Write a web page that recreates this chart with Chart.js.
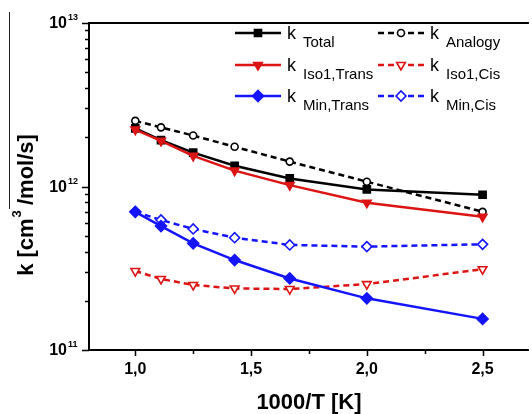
<!DOCTYPE html>
<html>
<head>
<meta charset="utf-8">
<script src="https://cdn.jsdelivr.net/npm/chart.js@4.4.1/dist/chart.umd.min.js"></script>
<style>
  html, body { margin: 0; padding: 0; background: #fff; overflow: hidden; }
  #wrap { position: relative; width: 536px; height: 414px; }
  #rule { position: absolute; left: 9px; top: 12px; width: 1px; height: 197px; background: #222; }
</style>
</head>
<body>
<div id="wrap"><canvas id="chartRate" width="536" height="414"></canvas></div>
<div id="rule"></div>
<script>
// 1000/T for T = 1000 ... 400 K
const invT = [1.0, 1.111, 1.25, 1.429, 1.667, 2.0, 2.5];

// rate constants, cm3/mol/s
const kTotal     = [2.27e12, 1.92e12, 1.61e12, 1.34e12, 1.12e12, 9.6e11, 8.9e11];
const kAnalogy   = [2.52e12, 2.30e12, 2.05e12, 1.75e12, 1.42e12, 1.07e12, 7.0e11];
const kIso1Trans = [2.23e12, 1.90e12, 1.54e12, 1.25e12, 1.02e12, 7.96e11, 6.53e11];
const kIso1Cis   = [3.04e11, 2.72e11, 2.50e11, 2.38e11, 2.36e11, 2.53e11, 3.12e11];
const kMinTrans  = [7.0e11, 5.73e11, 4.49e11, 3.55e11, 2.74e11, 2.07e11, 1.55e11];
const kMinCis    = [7.0e11, 6.24e11, 5.50e11, 4.86e11, 4.39e11, 4.29e11, 4.43e11];

const seriesSubs = ["Total", "Analogy", "Iso1,Trans", "Iso1,Cis", "Min,Trans", "Min,Cis"];

const xTickVals = [1.0, 1.5, 2.0, 2.5];
const xMinorVals = [1.25, 1.75, 2.25];
const yTickVals = [1e11, 1e12, 1e13];
const yTickExps = ["11", "12", "13"];

const RED = "#dc1414";
const BLUE = "#1414ff";
const FONT = "'Liberation Sans', Arial, sans-serif";

const pts = (arr) => invT.map((x, i) => ({ x: x, y: arr[i] }));

function series(label, arr, color, style, filled, dashed, radius, rot, order) {
  return {
    label: label,
    data: pts(arr),
    borderColor: color,
    borderWidth: 2.5,
    borderDash: dashed ? [6, 4] : [],
    pointStyle: style,
    pointRotation: rot,
    pointRadius: radius,
    pointBorderWidth: 1.6,
    pointBorderColor: color,
    pointBackgroundColor: filled ? color : "#fff",
    tension: 0,
    order: order
  };
}

const datasets = [
  series(seriesSubs[0], kTotal, "#000", "rect", true, false, 5, 0, 3),
  series(seriesSubs[1], kAnalogy, "#000", "circle", false, true, 3.5, 0, 4),
  series(seriesSubs[2], kIso1Trans, RED, "triangle", true, false, 5, 180, 1),
  series(seriesSubs[3], kIso1Cis, RED, "triangle", false, true, 5, 180, 6),
  series(seriesSubs[4], kMinTrans, BLUE, "rectRot", true, false, 5.5, 0, 2),
  series(seriesSubs[5], kMinCis, BLUE, "rectRot", false, true, 5, 0, 5)
];

// axes, ticks, titles and the two-column legend with subscripts
const decor = {
  id: "decor",
  afterDraw(chart) {
    const { ctx, chartArea: a, scales: { x, y } } = chart;
    const H = Chart.helpers;
    ctx.save();
    ctx.strokeStyle = "#000";
    ctx.fillStyle = "#000";

    ctx.lineWidth = 2;
    ctx.beginPath();
    ctx.moveTo(a.left, a.top); ctx.lineTo(a.right, a.top);
    ctx.moveTo(a.left, a.top - 1); ctx.lineTo(a.left, a.bottom + 1);
    ctx.moveTo(a.left - 1, a.bottom); ctx.lineTo(a.right, a.bottom);
    ctx.stroke();

    // y ticks: decades long, 2..9 short
    ctx.lineWidth = 1.5;
    ctx.beginPath();
    for (let e = 11; e <= 12; e++) {
      for (let m = 2; m <= 9; m++) {
        const py = Math.round(y.getPixelForValue(m * Math.pow(10, e))) + 0.5;
        ctx.moveTo(a.left - 4, py); ctx.lineTo(a.left, py);
      }
    }
    yTickVals.forEach(v => {
      const py = Math.round(y.getPixelForValue(v)) + 0.5;
      ctx.moveTo(a.left - 7, py); ctx.lineTo(a.left, py);
    });
    xTickVals.forEach(v => {
      const px = Math.round(x.getPixelForValue(v)) + 0.5;
      ctx.moveTo(px, a.bottom); ctx.lineTo(px, a.bottom + 6);
    });
    xMinorVals.forEach(v => {
      const px = Math.round(x.getPixelForValue(v)) + 0.5;
      ctx.moveTo(px, a.bottom); ctx.lineTo(px, a.bottom + 4);
    });
    ctx.stroke();

    // y tick labels 10^n
    yTickVals.forEach((v, i) => {
      const py = y.getPixelForValue(v);
      ctx.font = "bold 16px " + FONT;
      ctx.textAlign = "right";
      ctx.textBaseline = "middle";
      ctx.fillText("10", 67, py + 1);
      ctx.font = "bold 9px " + FONT;
      ctx.textAlign = "left";
      ctx.textBaseline = "alphabetic";
      ctx.fillText(yTickExps[i], 68, py - 3);
    });

    // x title
    ctx.font = "bold 22px " + FONT;
    ctx.textAlign = "center";
    ctx.textBaseline = "alphabetic";
    ctx.fillText("1000/T [K]", (a.left + a.right) / 2, 409);

    // y title, rotated
    ctx.save();
    ctx.translate(33, 205);
    ctx.rotate(-Math.PI / 2);
    const big = "bold 22px " + FONT, small = "bold 13px " + FONT;
    ctx.font = big;
    const w1 = ctx.measureText("k [cm").width;
    const w3 = ctx.measureText(" /mol/s]").width;
    ctx.font = small;
    const w2 = ctx.measureText("3").width;
    let tx = -(w1 + w2 + w3) / 2;
    ctx.textAlign = "left";
    ctx.font = big;
    ctx.fillText("k [cm", tx, 0);
    ctx.font = small;
    ctx.fillText("3", tx + w1 + 1, -12);
    ctx.font = big;
    ctx.fillText(" /mol/s]", tx + w1 + w2, 0);
    ctx.restore();

    // legend
    const colX = [235, 378];
    const rowY = [33, 65, 96];
    chart.data.datasets.forEach((ds, i) => {
      const cx = colX[i % 2], cy = rowY[Math.floor(i / 2)];
      const len = 46;
      ctx.save();
      ctx.strokeStyle = ds.borderColor;
      ctx.lineWidth = ds.borderWidth;
      ctx.setLineDash(ds.borderDash);
      ctx.beginPath();
      ctx.moveTo(cx, cy); ctx.lineTo(cx + len, cy);
      ctx.stroke();
      ctx.setLineDash([]);
      ctx.fillStyle = ds.pointBackgroundColor;
      ctx.strokeStyle = ds.pointBorderColor;
      ctx.lineWidth = ds.pointBorderWidth;
      H.drawPoint(ctx, { pointStyle: ds.pointStyle, rotation: ds.pointRotation, radius: ds.pointRadius, borderWidth: ds.pointBorderWidth }, cx + len / 2, cy);
      ctx.restore();
      const kx = cx + len + 6;
      ctx.fillStyle = "#000";
      ctx.textAlign = "left";
      ctx.font = "18px " + FONT;
      ctx.fillText("k", kx, cy + 6);
      ctx.font = "15px " + FONT;
      ctx.fillText(ds.label, kx + 16, cy + 13.5);
    });
    ctx.restore();
  }
};

new Chart(document.getElementById("chartRate"), {
  type: "line",
  data: { datasets: datasets },
  options: {
    responsive: false,
    animation: false,
    layout: { padding: { left: 0, top: 23, right: 0, bottom: 0 } },
    plugins: { legend: { display: false }, tooltip: { enabled: false } },
    scales: {
      x: {
        type: "linear",
        min: 0.8,
        max: 2.7,
        grid: { display: false, drawTicks: false },
        border: { display: false },
        afterBuildTicks: (s) => { s.ticks = xTickVals.map(v => ({ value: v })); },
        afterFit: (s) => { s.height = 64; },
        ticks: {
          padding: 10,
          color: "#000",
          font: { family: FONT, size: 16, weight: "bold" },
          callback: (v) => v.toFixed(1).replace(".", ",")
        }
      },
      y: {
        type: "logarithmic",
        min: 1e11,
        max: 1e13,
        grid: { display: false, drawTicks: false },
        border: { display: false },
        afterFit: (s) => { s.width = 89; },
        ticks: { display: false }
      }
    }
  },
  plugins: [decor]
});
</script>
</body>
</html>
